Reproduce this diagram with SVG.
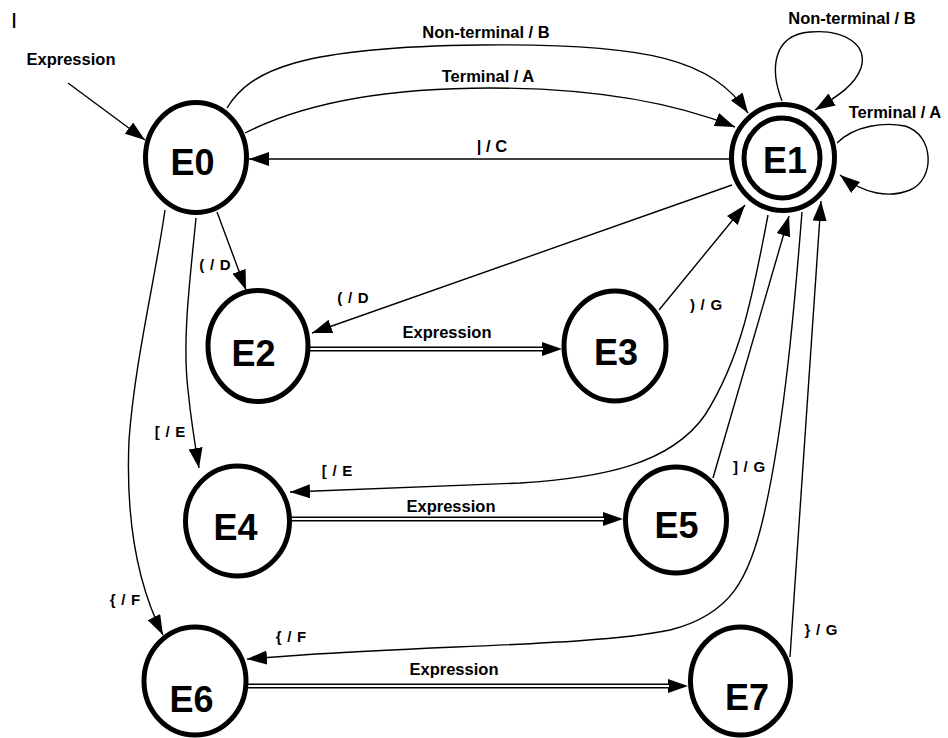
<svg xmlns="http://www.w3.org/2000/svg" width="948" height="738" viewBox="0 0 948 738">
<style>
.node{fill:#fff;stroke:#000;stroke-width:5}
.nt{font-family:"Liberation Sans",Arial,sans-serif;font-weight:bold;font-size:36px;text-anchor:middle;fill:#000}
.e{fill:none;stroke:#000;stroke-width:1.4}
.dbl{fill:none;stroke:#000;stroke-width:5}
.dblw{fill:none;stroke:#fff;stroke-width:1.8}
.lb{font-family:"Liberation Sans",Arial,sans-serif;font-weight:bold;font-size:16.5px;text-anchor:middle;fill:#000}
.ls{font-family:"Liberation Sans",Arial,sans-serif;font-weight:bold;font-size:15px;text-anchor:middle;word-spacing:1.5px;fill:#000}
</style>
<defs>
<marker id="ah" markerUnits="userSpaceOnUse" markerWidth="22" markerHeight="16" refX="20" refY="7" orient="auto">
<path d="M0,0 L20,7 L0,14 z" fill="#000"/>
</marker>
<marker id="ahd" markerUnits="userSpaceOnUse" markerWidth="22" markerHeight="16" refX="0" refY="7" orient="auto">
<path d="M0,0 L20,7 L0,14 z" fill="#000"/>
</marker>
</defs>
<rect width="948" height="738" fill="#fff"/>
<text class="lb" x="14" y="25">|</text>
<g id="connectors">
<path class="e" d="M68,83 L145,140" marker-end="url(#ah)"/>
<path class="e" d="M227,108 C250,70 300,47 480,45 C650,43 712,60 748,113" marker-end="url(#ah)"/>
<path class="e" d="M245,133 C300,105 380,88 490,88 C600,88 680,105 735,127" marker-end="url(#ah)"/>
<path class="e" d="M731,159 L249,159" marker-end="url(#ah)"/>
<path class="e" d="M782,101 C770,70 772,35 810,32 C845,29 868,45 861,68 C855,85 838,96 815,110" marker-end="url(#ah)"/>
<path class="e" d="M837,143 C855,125 885,122 905,126 C935,135 935,180 910,190 C890,198 865,195 840,175" marker-end="url(#ah)"/>
<path class="e" d="M732,185 L312,333" marker-end="url(#ah)"/>
<path class="e" d="M217,212 L246,290" marker-end="url(#ah)"/>
<path class="e" d="M659,310 L745,205" marker-end="url(#ah)"/>
<path class="e" d="M768,215 C752,300 740,360 705,415 C670,465 600,478 520,483 L290,492" marker-end="url(#ah)"/>
<path class="e" d="M713,478 L789,216" marker-end="url(#ah)"/>
<path class="e" d="M802,212 C795,300 785,420 765,510 C750,580 730,615 670,630 C600,645 450,645 302,655 L247,659" marker-end="url(#ah)"/>
<path class="e" d="M790,657 L821,201" marker-end="url(#ah)"/>
<path class="e" d="M196,218 C190,280 182,340 188,390 C191,420 195,445 199,468" marker-end="url(#ah)"/>
<path class="e" d="M165,210 C155,280 135,360 129,440 C126,510 135,580 163,635" marker-end="url(#ah)"/>
<path class="dbl" d="M310,349 L542,349" marker-end="url(#ahd)"/>
<path class="dblw" d="M310,349 L543,349"/>
<path class="dbl" d="M290,519 L603,519" marker-end="url(#ahd)"/>
<path class="dblw" d="M290,519 L604,519"/>
<path class="dbl" d="M246,686 L668,686" marker-end="url(#ahd)"/>
<path class="dblw" d="M246,686 L669,686"/>
</g>
<g id="labels">
<text class="lb" x="71" y="65">Expression</text>
<text class="lb" x="486" y="38">Non-terminal / B</text>
<text class="lb" x="488" y="82">Terminal / A</text>
<text class="lb" x="492" y="152">| / C</text>
<text class="lb" x="852" y="24">Non-terminal / B</text>
<text class="lb" x="895" y="118">Terminal / A</text>
<text class="ls" x="353" y="303">( / D</text>
<text class="ls" x="215" y="270">( / D</text>
<text class="ls" x="706" y="310">) / G</text>
<text class="ls" x="170" y="437">[ / E</text>
<text class="ls" x="337" y="476">[ / E</text>
<text class="ls" x="749" y="472">] / G</text>
<text class="ls" x="125" y="605">{ / F</text>
<text class="ls" x="291" y="642">{ / F</text>
<text class="ls" x="821" y="635">} / G</text>
<text class="lb" x="447" y="338">Expression</text>
<text class="lb" x="451" y="512">Expression</text>
<text class="lb" x="454" y="675">Expression</text>
</g>
<g id="E0"><ellipse class="node" cx="196" cy="157.5" rx="50.5" ry="55"/><text class="nt" x="192.5" y="175">E0</text></g>
<g id="E1"><ellipse class="node" cx="783" cy="157.5" rx="51.5" ry="53"/><ellipse class="node" cx="782" cy="158" rx="38" ry="40"/><text class="nt" x="785" y="173">E1</text></g>
<g id="E2"><ellipse class="node" cx="258" cy="346" rx="50" ry="55.5"/><text class="nt" x="253.5" y="366">E2</text></g>
<g id="E3"><ellipse class="node" cx="615" cy="346" rx="51" ry="55"/><text class="nt" x="616" y="365">E3</text></g>
<g id="E4"><ellipse class="node" cx="237.5" cy="521" rx="52" ry="55"/><text class="nt" x="235.5" y="540">E4</text></g>
<g id="E5"><ellipse class="node" cx="676" cy="520" rx="50.5" ry="53"/><text class="nt" x="676.5" y="538">E5</text></g>
<g id="E6"><ellipse class="node" cx="195" cy="681" rx="51" ry="54"/><text class="nt" x="191.5" y="712">E6</text></g>
<g id="E7"><ellipse class="node" cx="740.5" cy="681" rx="50" ry="54"/><text class="nt" x="747" y="710">E7</text></g>
</svg>
